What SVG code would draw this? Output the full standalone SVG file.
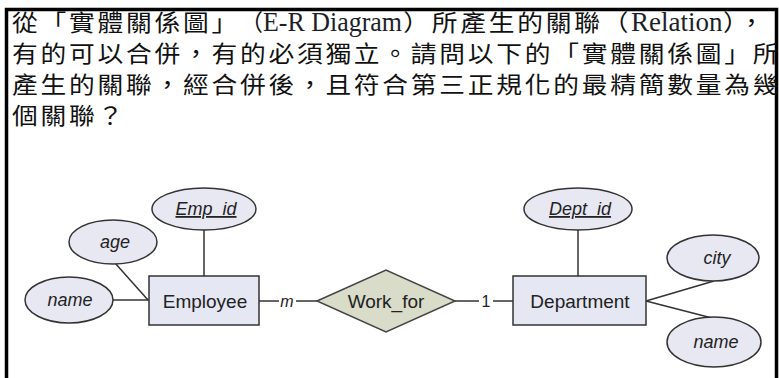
<svg xmlns="http://www.w3.org/2000/svg" width="779" height="378" viewBox="0 0 779 378">
<style>
.cjk{font-family:"Noto Sans CJK TC","Noto Sans CJK SC",sans-serif;font-size:23px;letter-spacing:2.45px;fill:#111}
.lat{font-family:"Liberation Serif",serif;font-size:27px;fill:#1e1e2a}
.attr{fill:#e8e8f3;stroke:#333;stroke-width:1.5}
.ent{fill:#e5e7f2;stroke:#333;stroke-width:1.5}
.rel{fill:#d9dcc9;stroke:#444;stroke-width:1.5}
.it{font-family:"Liberation Sans",Arial,sans-serif;font-style:italic;font-size:18px;fill:#222;text-anchor:middle}
.lbl{font-family:"Liberation Sans",Arial,sans-serif;font-size:19px;fill:#222;text-anchor:middle}
.card{font-family:"Liberation Sans",Arial,sans-serif;font-size:16px;fill:#222;text-anchor:middle}
.ln{stroke:#333;stroke-width:1.5;fill:none}
</style>
<rect width="779" height="378" fill="#fff"/>
<path d="M6.5,378 V9.5 H776.5 V378" fill="none" stroke="#000" stroke-width="3.5"/>
<g id="question">
<g transform="scale(1.12,1)">
<text class="cjk" x="10.71" y="31">從「實體關係圖」</text>
<text class="cjk" x="360" y="31">）所產生的關聯（</text>
<text class="cjk" x="645.5" y="31">），</text>
<text class="cjk" x="10.71" y="62">有的可以合併，有的必須獨立。請問以下的「實體關係圖」所</text>
<text class="cjk" x="10.71" y="93">產生的關聯，經合併後，且符合第三正規化的最精簡數量為幾</text>
<text class="cjk" x="10.71" y="124">個關聯？</text>
</g>
<text class="cjk" x="240" y="31" letter-spacing="0">（</text>
<text class="lat" x="263" y="31" textLength="139" lengthAdjust="spacingAndGlyphs">E-R Diagram</text>
<text class="lat" x="631" y="31">Relation</text>
</g>
<g id="connectors">
<line class="ln" x1="113" y1="300" x2="149" y2="300"/>
<line class="ln" x1="115" y1="263" x2="148" y2="300"/>
<line class="ln" x1="204" y1="230" x2="204" y2="276"/>
<line class="ln" x1="259" y1="301" x2="279" y2="301"/>
<line class="ln" x1="296" y1="301" x2="317" y2="301"/>
<line class="ln" x1="455" y1="301" x2="479" y2="301"/>
<line class="ln" x1="493" y1="301" x2="513" y2="301"/>
<line class="ln" x1="578" y1="230" x2="578" y2="276"/>
<line class="ln" x1="646" y1="301" x2="714" y2="281"/>
<line class="ln" x1="646" y1="301" x2="712" y2="318"/>
<text class="card" x="287" y="307" font-style="italic">m</text>
<text class="card" x="486" y="307">1</text>
</g>
<g id="emp_id"><ellipse class="attr" cx="204" cy="209" rx="52" ry="21"/><text class="it" x="206" y="215" text-decoration="underline">Emp_id</text></g>
<g id="age"><ellipse class="attr" cx="113" cy="242" rx="44" ry="22"/><text class="it" x="115" y="248">age</text></g>
<g id="name_emp"><ellipse class="attr" cx="69" cy="300" rx="44" ry="23"/><text class="it" x="70" y="306">name</text></g>
<g id="employee"><rect class="ent" x="149" y="276" width="110" height="49"/><text class="lbl" x="205" y="308">Employee</text></g>
<g id="work_for"><polygon class="rel" points="317,301 386,270 455,301 386,332"/><text class="lbl" x="386" y="308">Work_for</text></g>
<g id="department"><rect class="ent" x="513" y="276" width="133" height="49"/><text class="lbl" x="580" y="308">Department</text></g>
<g id="dept_id"><ellipse class="attr" cx="578" cy="209" rx="54" ry="21"/><text class="it" x="580" y="215" text-decoration="underline">Dept_id</text></g>
<g id="city"><ellipse class="attr" cx="713" cy="258" rx="46" ry="23"/><text class="it" x="717" y="264">city</text></g>
<g id="name_dept"><ellipse class="attr" cx="714" cy="342" rx="47" ry="25"/><text class="it" x="716" y="348">name</text></g>
</svg>
